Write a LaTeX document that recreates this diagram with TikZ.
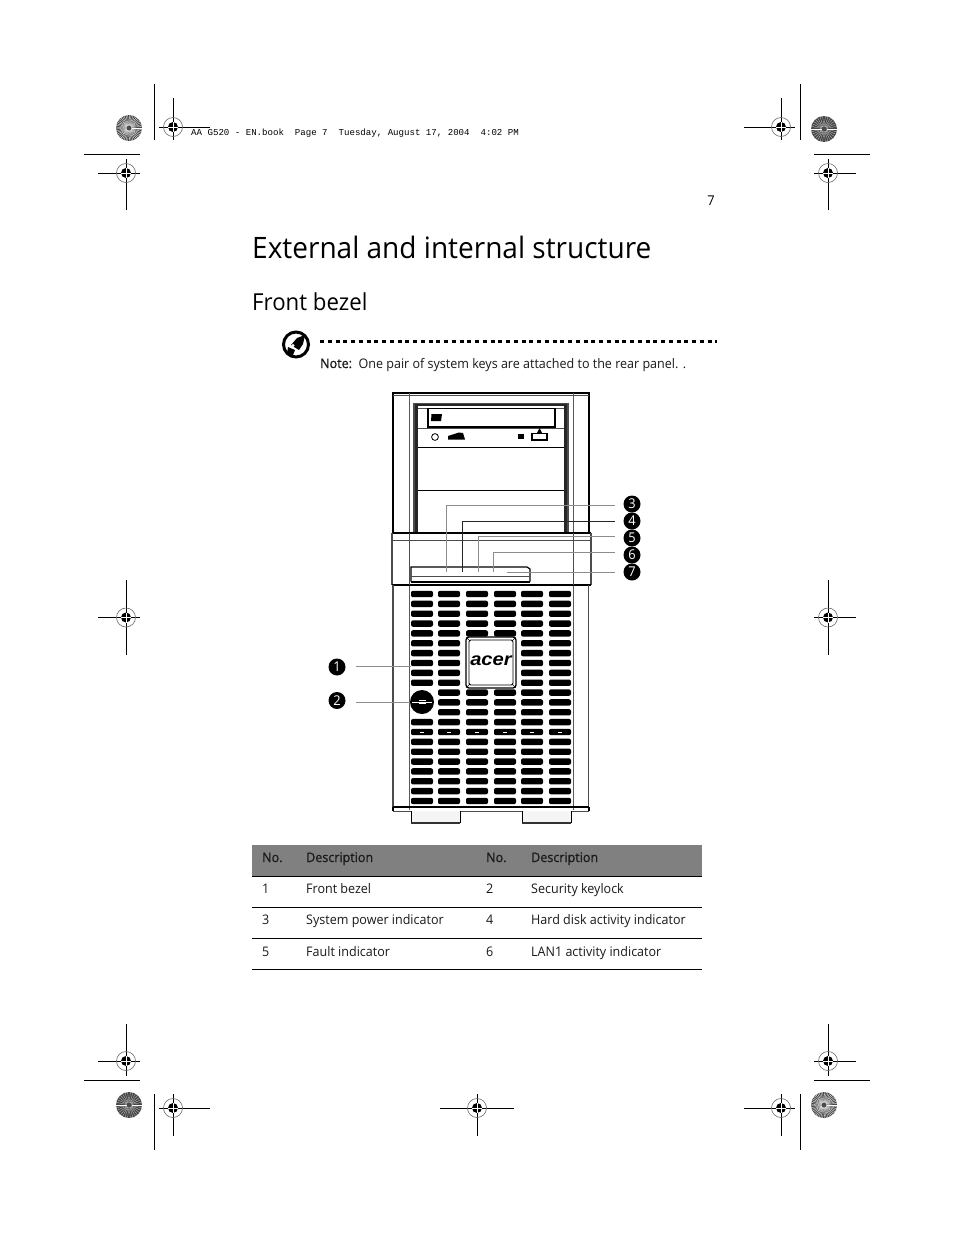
\documentclass[tikz,border=0pt]{standalone}
\usepackage{fontspec}
\setmainfont[FakeStretch=0.95]{Open Sans}
\newfontfamily\semib[FakeStretch=0.95,FakeBold=0.8]{Open Sans}
\newfontfamily\monof{Liberation Mono}
\newfontfamily\logof[FakeStretch=1.12]{Liberation Sans}
\usetikzlibrary{calc}
\definecolor{hdr}{HTML}{808080}
\definecolor{inkc}{HTML}{1A1A1A}
\definecolor{leader}{HTML}{8C8C8C}
\tikzset{
  crop/.style={line width=1pt,black},
  body/.style={font=\fontsize{13.2}{15}\selectfont,anchor=base west,inner sep=0pt,text=inkc},
  head/.style={font=\semib\fontsize{13.2}{15}\selectfont,anchor=base west,inner sep=0pt,text=inkc},
  rule/.style={line width=1pt,black},
  tower/.style={line width=1.1pt,black},
  towergrey/.style={line width=1.3pt,black!70},
  towerthin/.style={line width=.6pt,black!70},
  towerthick/.style={line width=2.2pt,black!85},
  callout/.style={circle,fill=black,text=white,inner sep=0pt,minimum size=17pt,font=\fontsize{13.5}{13}\selectfont},
  leadline/.style={line width=.9pt,leader},
  slot/.style={fill=black,rounded corners=2pt},
}
\newcommand{\regmark}[6]{% cx cy x1 x2 y1 y2
  \draw[crop] (#3,#2) -- (#4,#2);
  \draw[crop] (#1,#5) -- (#1,#6);
  \draw[line width=.6pt,black!60] (#1,#2) circle (9.5);
  \fill[black] (#1,#2) circle (5);
  \draw[white,line width=.9pt] (#1-5,#2) -- (#1+5,#2) (#1,#2-5) -- (#1,#2+5);
}
\newcommand{\sunburst}[5]{% cx cy base-gray step width
  \fill[black!#3] (#1,#2) circle (13);
  \foreach \a in {0,#4,...,359}{
    \draw[white,line width=#5pt] ($(#1,#2)+(\a:2.5)$) -- ($(#1,#2)+(\a:13)$);
  }
  \fill[black!70] (#1,#2) circle (1.5);
}
\begin{document}
\begin{tikzpicture}[x=1pt,y=-1pt]
\useasboundingbox (0,0) rectangle (954,1235);
\fill[white] (0,0) rectangle (954,1235);
% crop and registration marks
\draw[crop] (154.5,84) -- (154.5,140) (84,154.5) -- (140,154.5);
\draw[crop] (800.5,84) -- (800.5,140) (814,154.5) -- (870,154.5);
\draw[crop] (84,1080) -- (140,1080) (154.5,1094) -- (154.5,1150);
\draw[crop] (814,1080) -- (870,1080) (800.5,1094) -- (800.5,1150);
\regmark{173}{127}{159}{210}{98}{140}
\regmark{126}{173}{98}{140}{159}{210}
\regmark{781}{127}{744}{795}{98}{140}
\regmark{828}{173}{814}{856}{159}{210}
\regmark{126}{617.5}{98}{140}{580}{655}
\regmark{828}{617.5}{814}{856}{580}{655}
\regmark{126}{1061}{98}{140}{1024}{1076}
\regmark{828}{1061}{814}{856}{1024}{1076}
\regmark{173}{1108}{159}{210}{1094}{1136}
\regmark{477}{1108}{440}{514}{1094}{1136}
\regmark{781}{1108}{744}{795}{1094}{1136}
\sunburst{129}{128}{72}{8}{.3}
\sunburst{824}{129}{72}{12}{.15}
\sunburst{129}{1105}{72}{12}{.15}
\sunburst{824}{1105}{72}{8}{.3}
% running header
\node[inner sep=0pt,anchor=base west,font=\monof\fontsize{9.1}{12}\selectfont] (runhead) at (191,135) {AA G520 - EN.book~~Page 7~~Tuesday, August 17, 2004~~4:02 PM};
\node[inner sep=0pt,anchor=base east,font=\fontsize{13.5}{15}\selectfont] (pagenum) at (715,205) {7};
\node[inner sep=0pt,anchor=base west,font=\fontsize{29.5}{32}\selectfont] (title) at (252,258) {External and internal structure};
\node[inner sep=0pt,anchor=base west,font=\fontsize{23.4}{24}\selectfont] (subtitle) at (252,310) {Front bezel};
% note
\draw[line width=3pt,black] (296,344.5) circle (12.5);
\fill[black] (305,335) -- (297,338) -- (291,345) -- (299,350) -- (303,344) -- cycle;
\fill[black] (288,347) -- (295,350) -- (293,355) -- (287,354) -- cycle;
\fill[white] (293,345.5) circle (1.6);
\draw[line width=3pt,black,dash pattern=on 4pt off 3.75pt] (320,341) -- (717,341);
\node[inner sep=0pt,anchor=base west,font=\fontsize{13.2}{15}\selectfont,text=inkc] (note) at (320,368) {{\semib Note:}\hspace{.5em}One pair of system keys are attached to the rear panel. .};
% tower upper part
\draw[tower] (393,532) -- (393,393) -- (589,393) -- (589,532);
\draw[towerthin] (393,395) -- (589,395);
\draw[line width=1.5pt] (393,432) -- (393,437) (393,467) -- (393,472) (393,506) -- (393,511);
\draw[towergrey] (414,532) -- (414,403.5) -- (568,403.5) -- (568,532);
\draw[towerthick] (416.5,532) -- (416.5,405) -- (565.5,405) -- (565.5,532);
\draw[towerthin] (418,408) -- (564,408);
\draw[tower] (418,447.5) -- (564,447.5);
\draw[tower] (418,490.5) -- (564,490.5);
\draw[towerthin] (418,428) -- (564,428);
\draw[line width=1.3pt] (428,408.5) rectangle (555,427);
\fill[black] (431.5,414) -- (442,414) -- (441,421) -- (431,421) -- cycle;
\draw[line width=.8pt] (435,437) circle (3.4);
\fill[black] (448,439.5) -- (448,436) -- (459,432.5) -- (463,433) -- (465,439.5) -- cycle;
\fill[black] (518,434) rectangle (524,439);
\draw[line width=1.2pt] (532,433.5) rectangle (547,440);
\fill[black] (537,433) -- (539.5,428) -- (542,433) -- cycle;
% vertical grey lines through bezel
\draw[line width=1pt,black!65] (409,393) -- (409,810);
\draw[line width=1pt,black!65] (573,393) -- (573,810);
% band
\fill[white] (392,533) rectangle (591,584);
\draw[line width=1.6pt] (392,533) -- (590.5,533);
\draw[towerthin] (392,540.5) -- (591,540.5);
\draw[towergrey] (392,533) -- (392,585) (591,533) -- (591,585);
\draw[line width=1.6pt] (392,585) -- (591,585);
\draw[towerthin] (409,533) -- (409,585) (573,533) -- (573,585);
% display window
\draw[line width=1.2pt] (411,581.5) -- (411,567) -- (527,567) -- (530,569) -- (530,581.5);
\draw[towerthin] (411,576) -- (530,576);
\draw[line width=1.4pt] (411,582) -- (530,582);
% grille
\foreach \r in {0,...,21}{
  \foreach \c/\xa/\xb in {1/411/433,2/438/460,3/466/488,4/494/516,5/521/543,6/549/571}{
    \pgfmathtruncatemacro{\hide}{((\c==3||\c==4)&&\r>=5&&\r<=9)||(\c==1&&\r>=10&&\r<=12)?1:0}
    \ifnum\hide=0
      \path[slot] (\xa,594+9.857*\r-3.2) rectangle (\xb,594+9.857*\r+3.2);
    \fi
  }
}
\foreach \xa in {422,449,477,505,532,560}{
  \draw[white,line width=.5pt] (\xa-2,732) -- (\xa+2,732);
}
% logo plate
\draw[line width=1.3pt,rounded corners=3pt] (466,637) rectangle (516,688);
\draw[line width=.9pt,rounded corners=2pt] (469,640) rectangle (513,685);
\draw[line width=.5pt] (466.5,637.5) -- (470,641) (515.5,637.5) -- (512,641) (466.5,687.5) -- (470,684) (515.5,687.5) -- (512,684);
\node[inner sep=0pt,font=\logof\bfseries\itshape\fontsize{18}{18}\selectfont] (acer) at (491,660.5) {acer};
% lock
\fill[black] (422,702) circle (12);
\draw[white,line width=.4pt] (412,702) -- (432,702);
\draw[white,line width=.5pt] (418.5,700.5) -- (425.5,700.5) (418.5,703.5) -- (425.5,703.5);
% lower body
\draw[towergrey] (393,585) -- (393,807);
\draw[towergrey] (588.5,585) -- (588.5,807);
\draw[line width=2pt] (393,807) -- (589,807);
\draw[towerthin] (393,811) -- (589,811);
\draw[tower] (393,807) -- (393,811) (589,807) -- (589,811);
% feet
\fill[black!4] (411,811) rectangle (460,823) (522,811) rectangle (571,823);
\draw[line width=.9pt] (411,811) -- (411,823) (460,811) -- (460,823) (522,811) -- (522,823) (571,811) -- (571,823);
\draw[line width=1.8pt,black!80] (411,823) -- (460,823) (522,823) -- (571,823);
% callouts and leaders
\node[callout] (c1) at (337,667) {1};
\node[callout] (c2) at (337,700.5) {2};
\node[callout] (c3) at (632,504) {3};
\node[callout] (c4) at (632,521) {4};
\node[callout] (c5) at (632,538) {5};
\node[callout] (c6) at (632,555) {6};
\node[callout] (c7) at (632,572) {7};
\coordinate (e1) at (411,666);
\coordinate (e2) at (410,702);
\coordinate (s1) at (356,666);
\coordinate (s2) at (356,702);
\coordinate (p3) at (446,571.5);
\coordinate (p4) at (462,571.5);
\coordinate (p5) at (478,571.5);
\coordinate (p6) at (493,571.5);
\coordinate (p7) at (507,572);
\coordinate (r3) at (615,505.5);
\coordinate (r4) at (615,521);
\coordinate (r5) at (615,536.5);
\coordinate (r6) at (615,552);
\coordinate (r7) at (615,572);
\draw[leadline] (s1) -- (e1);
\draw[leadline] (s2) -- (e2);
\draw[leadline] (p3) |- (r3);
\draw[leadline,black!85] (p4) |- (r4);
\draw[leadline] (p5) |- (r5);
\draw[leadline] (p6) |- (r6);
\draw[leadline] (p7) -- (r7);
% table
\fill[hdr] (252,845) rectangle (702,876);
\draw[rule] (252,876.5) -- (702,876.5);
\draw[rule] (252,907.5) -- (702,907.5);
\draw[rule] (252,938.5) -- (702,938.5);
\draw[rule] (252,969.5) -- (702,969.5);
\node[head] (h1) at (262,862) {No.};
\node[head] (h2) at (306,862) {Description};
\node[head] (h3) at (486,862) {No.};
\node[head] (h4) at (531,862) {Description};
\node[body] (a1) at (262,893) {1};
\node[body] (a2) at (306,893) {Front bezel};
\node[body] (a3) at (486,893) {2};
\node[body] (a4) at (531,893) {Security keylock};
\node[body] (b1) at (262,924) {3};
\node[body] (b2) at (306,924) {System power indicator};
\node[body] (b3) at (486,924) {4};
\node[body] (b4) at (531,924) {Hard disk activity indicator};
\node[body] (d1) at (262,956) {5};
\node[body] (d2) at (306,956) {Fault indicator};
\node[body] (d3) at (486,956) {6};
\node[body] (d4) at (531,956) {LAN1 activity indicator};
\end{tikzpicture}
\end{document}
